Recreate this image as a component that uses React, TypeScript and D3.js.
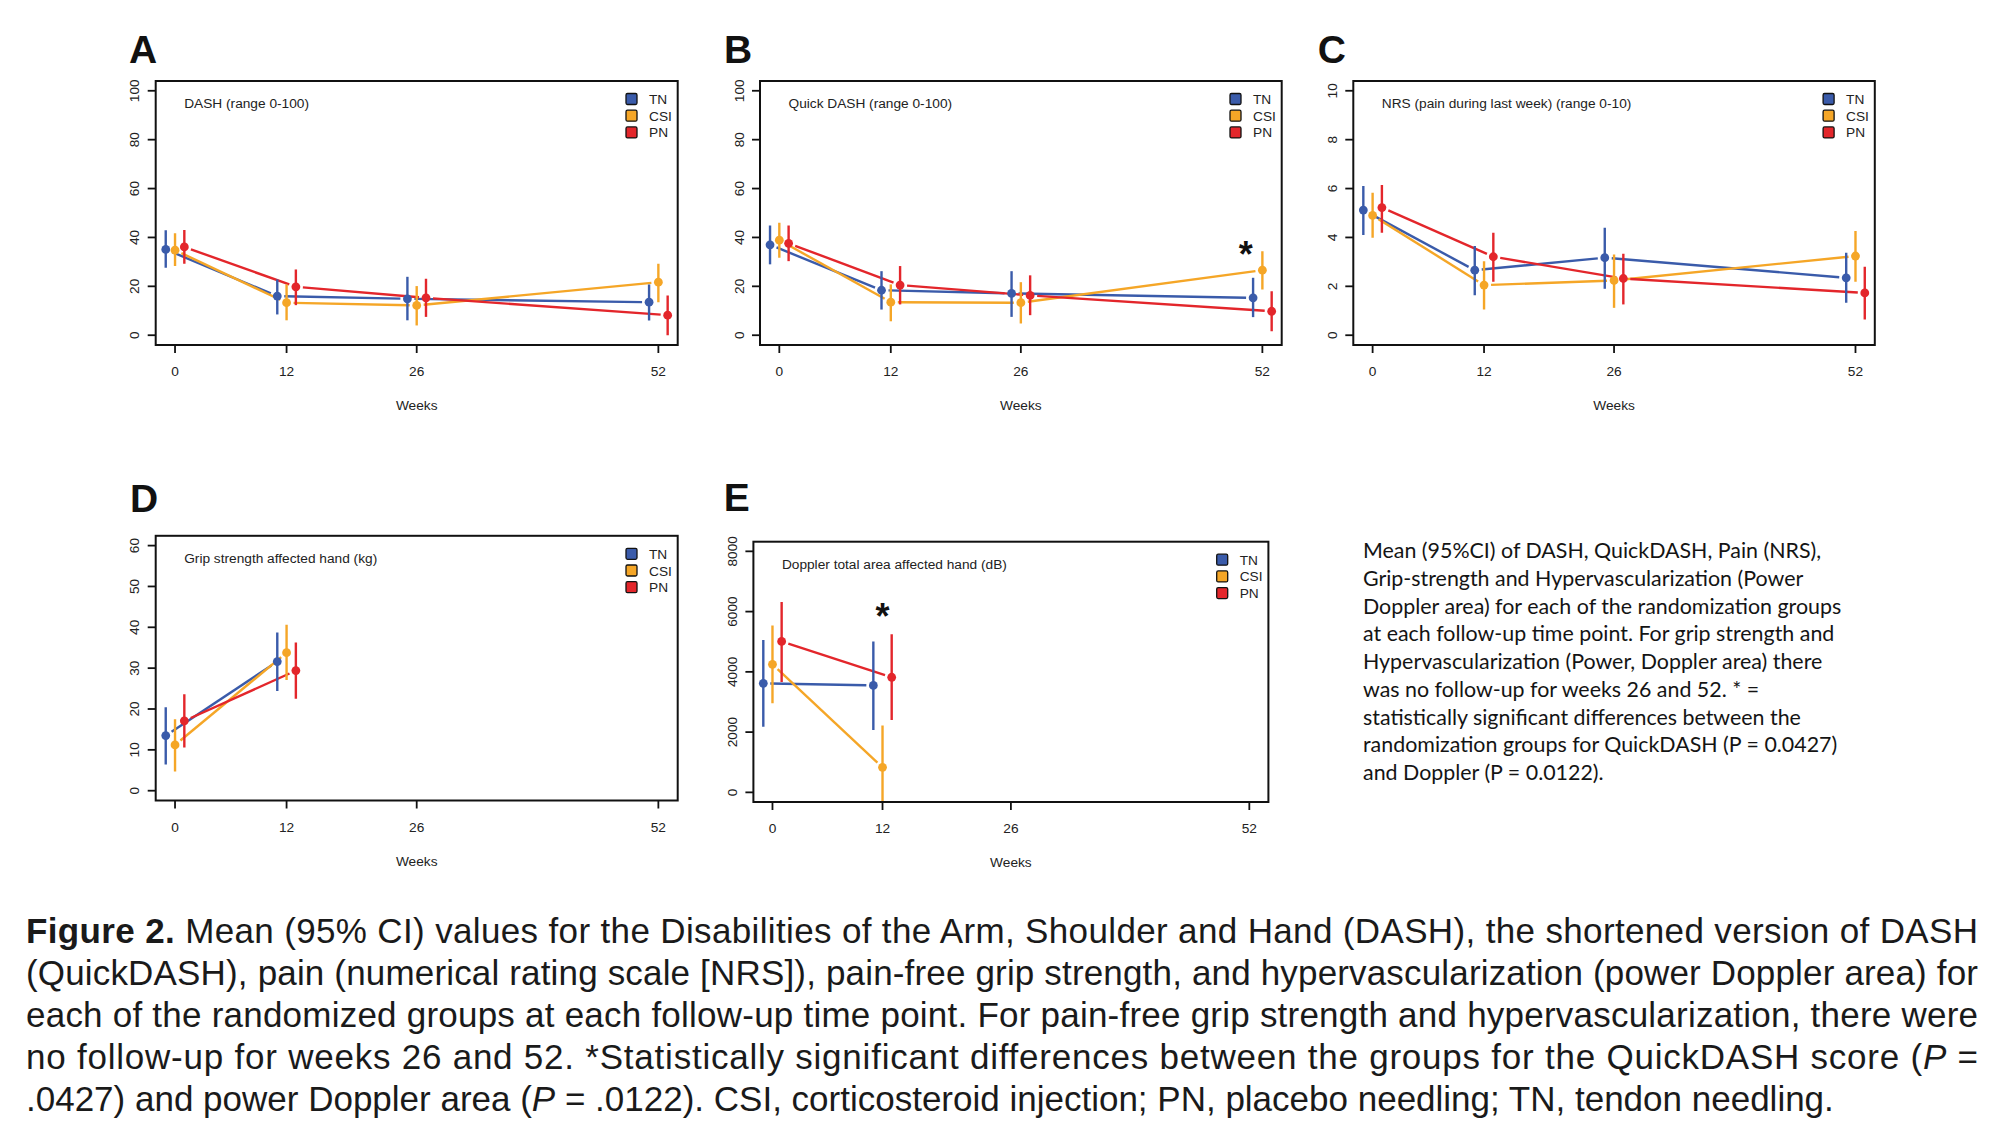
import React from 'react';
import * as d3 from 'd3';

const weekTicks = [0, 12, 26, 52];
const weekShort = [0, 12];
const groupNames = ['TN', 'CSI', 'PN'];
const groupShift = [-1, 0, 1];
const groupColors = ['#3A5BAA', '#F5A627', '#E3262B'];

const dashTicks = [0, 20, 40, 60, 80, 100];
const dashMean = [[35.1, 16.0, 14.9, 13.5], [34.8, 13.3, 12.2, 21.7], [36.1, 19.8, 15.3, 8.2]];
const dashLow = [[27.6, 8.5, 6.1, 6.0], [28.3, 6.1, 4.0, 13.5], [29.2, 12.3, 7.5, 0.0]];
const dashHigh = [[42.9, 22.8, 23.9, 20.8], [41.7, 20.8, 20.1, 29.2], [43.0, 26.9, 23.1, 16.3]];

const qdashMean = [[37.0, 18.4, 17.1, 15.3], [38.9, 13.5, 13.3, 26.6], [37.6, 20.5, 16.3, 9.8]];
const qdashLow = [[29.0, 10.5, 7.5, 7.4], [31.7, 5.7, 4.8, 18.7], [30.3, 12.6, 8.2, 1.6]];
const qdashHigh = [[44.9, 26.2, 26.2, 23.5], [46.0, 20.8, 21.7, 34.4], [44.9, 28.3, 24.5, 18.0]];

const nrsTicks = [0, 2, 4, 6, 8, 10];
const nrsMean = [[5.12, 2.66, 3.17, 2.35], [4.9, 2.05, 2.24, 3.24], [5.22, 3.21, 2.32, 1.73]];
const nrsLow = [[4.1, 1.64, 1.9, 1.33], [3.99, 1.05, 1.12, 2.19], [4.19, 2.19, 1.26, 0.64]];
const nrsHigh = [[6.1, 3.65, 4.4, 3.37], [5.83, 3.03, 3.3, 4.26], [6.15, 4.19, 3.33, 2.8]];

const gripTicks = [0, 10, 20, 30, 40, 50, 60];
const gripMean = [[13.5, 31.6], [11.2, 33.8], [17.1, 29.4]];
const gripLow = [[6.4, 24.4], [4.7, 27.1], [10.6, 22.5]];
const gripHigh = [[20.4, 38.7], [17.5, 40.6], [23.6, 36.3]];

const dopplerTicks = [0, 2000, 4000, 6000, 8000];
const dopplerMean = [[3620, 3550], [4250, 830], [5010, 3820]];
const dopplerLow = [[2180, 2070], [2960, -600], [3660, 2400]];
const dopplerHigh = [[5060, 5010], [5540, 2220], [6320, 5250]];

const panelTitles = ['DASH (range 0-100)', 'Quick DASH (range 0-100)', 'NRS (pain during last week) (range 0-10)', 'Grip strength affected hand (kg)', 'Doppler total area affected hand (dB)'];
const panelLetters = ['A', 'B', 'C', 'D', 'E'];

const sideText = [
  'Mean (95%CI) of DASH, QuickDASH, Pain (NRS),',
  'Grip-strength and Hypervascularization (Power',
  'Doppler area) for each of the randomization groups',
  'at each follow-up time point. For grip strength and',
  'Hypervascularization (Power, Doppler area) there',
  'was no follow-up for weeks 26 and 52. * =',
  'statistically significant differences between the',
  'randomization groups for QuickDASH (P = 0.0427)',
  'and Doppler (P = 0.0122).',
];

const FONT = '"Liberation Sans", Arial, Helvetica, sans-serif';
const BASE = 13.7;

type Spec = {
  id: string;
  letter: string;
  letterX: number;
  letterY: number;
  left: number;
  top: number;
  width: number;
  height: number;
  weeks: number[];
  yTicks: number[];
  title: string;
  mean: number[][];
  low: number[][];
  high: number[][];
  star?: [number, number];
};

const specs: Spec[] = [
  { id: 'a', letter: panelLetters[0], letterX: 129, letterY: 63, left: 155.7, top: 81, width: 522, height: 264, weeks: weekTicks, yTicks: dashTicks, title: panelTitles[0], mean: dashMean, low: dashLow, high: dashHigh },
  { id: 'b', letter: panelLetters[1], letterX: 724, letterY: 63, left: 760, top: 81, width: 521.7, height: 264, weeks: weekTicks, yTicks: dashTicks, title: panelTitles[1], mean: qdashMean, low: qdashLow, high: qdashHigh, star: [50.2, 36.2] },
  { id: 'c', letter: panelLetters[2], letterX: 1317.7, letterY: 63, left: 1353.3, top: 81, width: 521.5, height: 264, weeks: weekTicks, yTicks: nrsTicks, title: panelTitles[2], mean: nrsMean, low: nrsLow, high: nrsHigh },
  { id: 'd', letter: panelLetters[3], letterX: 130, letterY: 511.7, left: 155.7, top: 535.8, width: 522, height: 264.7, weeks: weekShort, yTicks: gripTicks, title: panelTitles[3], mean: gripMean, low: gripLow, high: gripHigh },
  { id: 'e', letter: panelLetters[4], letterX: 723.7, letterY: 510.7, left: 753.4, top: 541.7, width: 515, height: 260.3, weeks: weekShort, yTicks: dopplerTicks, title: panelTitles[4], mean: dopplerMean, low: dopplerLow, high: dopplerHigh, star: [12, 6094] },
];

function Panel({ s }: { s: Spec }) {
  const { left, top, width, height } = s;
  const right = left + width;
  const bottom = top + height;
  const x = d3.scaleLinear().domain([-2.08, 54.08]).range([left, right]);
  const yMin = s.yTicks[0];
  const yMax = s.yTicks[s.yTicks.length - 1];
  const pad = (yMax - yMin) * 0.04;
  const y = d3.scaleLinear().domain([yMin - pad, yMax + pad]).range([bottom, top]);
  const gap = 7;
  const line = d3.line<[number, number]>();

  return (
    <g>
      <defs>
        <clipPath id={`clip-${s.id}`}>
          <rect x={left} y={top} width={width} height={height} />
        </clipPath>
      </defs>
      <g clipPath={`url(#clip-${s.id})`}>
        {groupNames.map((g, gi) => {
          const pts = s.weeks.map((w, i) => [x(w + groupShift[gi]), y(s.mean[gi][i])] as [number, number]);
          const segs = [] as [number, number][][];
          for (let i = 0; i < pts.length - 1; i++) {
            const [x1, y1] = pts[i];
            const [x2, y2] = pts[i + 1];
            const L = Math.hypot(x2 - x1, y2 - y1);
            const ux = (x2 - x1) / L;
            const uy = (y2 - y1) / L;
            segs.push([[x1 + ux * gap, y1 + uy * gap], [x2 - ux * gap, y2 - uy * gap]]);
          }
          return (
            <g key={g}>
              {segs.map((sg, i) => (
                <path key={i} d={line(sg) || ''} stroke={groupColors[gi]} strokeWidth={2.4} fill="none" />
              ))}
            </g>
          );
        })}
        {groupNames.map((g, gi) => (
          <g key={g}>
            {s.weeks.map((w, i) => (
              <g key={i}>
                <line x1={x(w + groupShift[gi])} x2={x(w + groupShift[gi])} y1={y(s.low[gi][i])} y2={y(s.high[gi][i])} stroke={groupColors[gi]} strokeWidth={2.4} />
                <circle cx={x(w + groupShift[gi])} cy={y(s.mean[gi][i])} r={4.4} fill={groupColors[gi]} />
              </g>
            ))}
          </g>
        ))}
      </g>
      <rect x={left} y={top} width={width} height={height} fill="none" stroke="#111" strokeWidth={2} />
      {weekTicks.map((t) => (
        <g key={t}>
          <line x1={x(t)} x2={x(t)} y1={bottom} y2={bottom + 8} stroke="#111" strokeWidth={1.8} />
          <text x={x(t)} y={bottom + 31} textAnchor="middle" fontFamily={FONT} fontSize={BASE} fill="#222">{t}</text>
        </g>
      ))}
      {s.yTicks.map((t) => (
        <g key={t}>
          <line x1={left - 8} x2={left} y1={y(t)} y2={y(t)} stroke="#111" strokeWidth={1.8} />
          <text transform={`translate(${left - 16.4},${y(t)}) rotate(-90)`} textAnchor="middle" fontFamily={FONT} fontSize={BASE} fill="#222">{t}</text>
        </g>
      ))}
      <text x={(left + right) / 2} y={bottom + 65} textAnchor="middle" fontFamily={FONT} fontSize={BASE} fill="#222">Weeks</text>
      <text x={left + 28.5} y={top + 27} fontFamily={FONT} fontSize={BASE} fill="#222">{s.title}</text>
      {groupNames.map((g, gi) => (
        <g key={g}>
          <rect x={right - 51.7} y={top + 18 + 16.7 * gi - 5.5} width={11} height={11} rx={1.5} fill={groupColors[gi]} stroke="#111" strokeWidth={1.3} />
          <text x={right - 28.7} y={top + 18 + 16.7 * gi + 5} fontFamily={FONT} fontSize={BASE} fill="#222">{g}</text>
        </g>
      ))}
      {s.star && (
        <text x={x(s.star[0])} y={y(s.star[1]) + 20} textAnchor="middle" fontFamily={FONT} fontWeight="bold" fontSize={36} fill="#111">*</text>
      )}
      <text x={s.letterX} y={s.letterY} fontFamily={FONT} fontWeight="bold" fontSize={39} fill="#111">{s.letter}</text>
    </g>
  );
}

export default function App() {
  const capX = 26;
  const capW = 1952;
  const capBase = 943;
  const capStep = 42;
  const capSize = 35;
  return (
    <svg width={2006} height={1132} viewBox="0 0 2006 1132" style={{ position: 'absolute', left: 0, top: 0, background: '#fff' }}>
      <rect x={0} y={0} width={2006} height={1132} fill="#fff" />
      {specs.map((s) => (
        <Panel key={s.id} s={s} />
      ))}
      {sideText.map((t, i) => (
        <text key={i} x={1363} y={558.3 + 27.7 * i} fontFamily="Lato, 'Open Sans', sans-serif" fontSize={21.4} fill="#141414">{t}</text>
      ))}
      <g fontFamily={FONT} fontSize={capSize} fill="#1a1a1a">
        <text x={capX} y={capBase} textLength={capW} lengthAdjust="spacing">
          <tspan fontWeight="bold">Figure 2.</tspan> Mean (95% CI) values for the Disabilities of the Arm, Shoulder and Hand (DASH), the shortened version of DASH
        </text>
        <text x={capX} y={capBase + capStep} textLength={capW} lengthAdjust="spacing">
          (QuickDASH), pain (numerical rating scale [NRS]), pain-free grip strength, and hypervascularization (power Doppler area) for
        </text>
        <text x={capX} y={capBase + capStep * 2} textLength={capW} lengthAdjust="spacing">
          each of the randomized groups at each follow-up time point. For pain-free grip strength and hypervascularization, there were
        </text>
        <text x={capX} y={capBase + capStep * 3} textLength={capW} lengthAdjust="spacing">
          no follow-up for weeks 26 and 52. *Statistically significant differences between the groups for the QuickDASH score (<tspan fontStyle="italic">P</tspan> =
        </text>
        <text x={capX} y={capBase + capStep * 4}>
          .0427) and power Doppler area (<tspan fontStyle="italic">P</tspan> = .0122). CSI, corticosteroid injection; PN, placebo needling; TN, tendon needling.
        </text>
      </g>
    </svg>
  );
}
